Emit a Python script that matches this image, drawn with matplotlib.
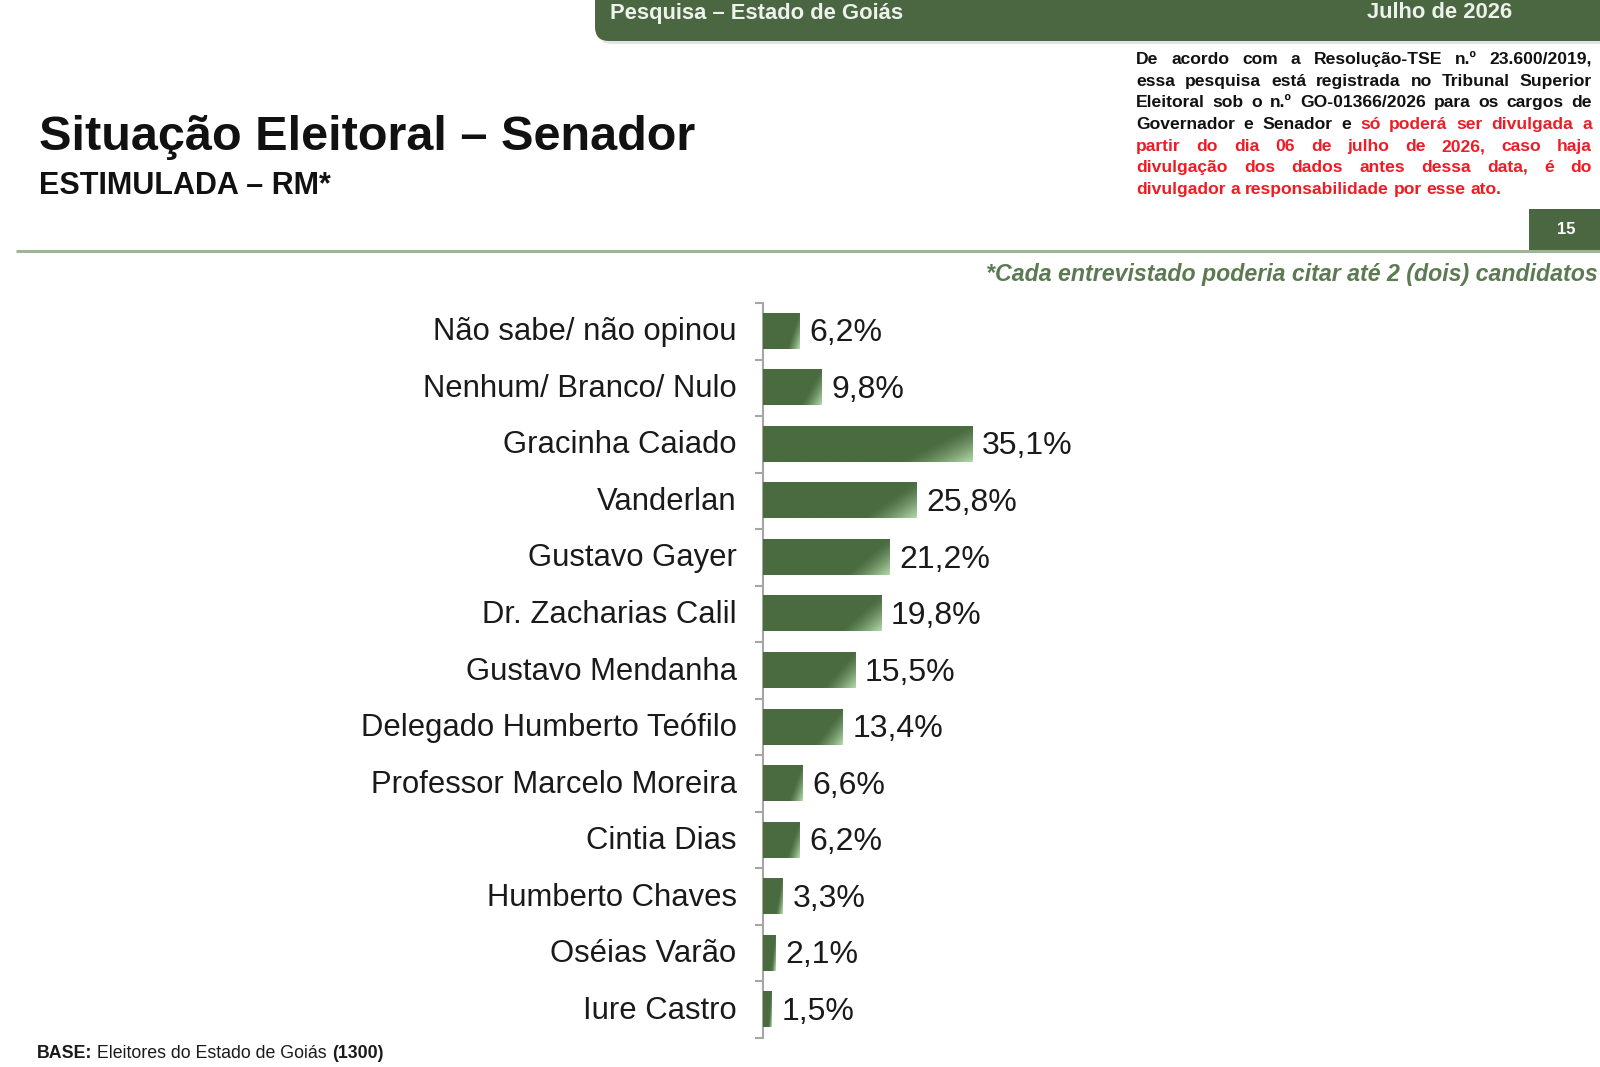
import numpy as np
import matplotlib
matplotlib.use('Agg')
import matplotlib.pyplot as plt
from matplotlib.patches import FancyBboxPatch, Rectangle
from matplotlib.transforms import ScaledTranslation

plt.rcParams['font.family'] = ['Liberation Sans', 'DejaVu Sans']

#####################
# DADOS
categorias = ['Não sabe/ não opinou', 'Nenhum/ Branco/ Nulo', 'Gracinha Caiado',
              'Vanderlan', 'Gustavo Gayer', 'Dr. Zacharias Calil', 'Gustavo Mendanha',
              'Delegado Humberto Teófilo', 'Professor Marcelo Moreira', 'Cintia Dias',
              'Humberto Chaves', 'Oséias Varão', 'Iure Castro']
valores = [6.2, 9.8, 35.1, 25.8, 21.2, 19.8, 15.5, 13.4, 6.6, 6.2, 3.3, 2.1, 1.5]
rotulos = [('%.1f%%' % v).replace('.', ',') for v in valores]

titulo = 'Situação Eleitoral – Senador'
subtitulo = 'ESTIMULADA – RM*'
cabecalho_esq = 'Pesquisa – Estado de Goiás'
cabecalho_dir = 'Julho de 2026'
pagina = '15'
nota_cit = '*Cada entrevistado poderia citar até 2 (dois) candidatos'
# linhas da nota legal: (texto preto, texto vermelho)
nota_linhas = [
    ('De acordo com a Resolução-TSE n.º 23.600/2019,', ''),
    ('essa pesquisa está registrada no Tribunal Superior', ''),
    ('Eleitoral sob o n.º GO-01366/2026 para os cargos de', ''),
    ('Governador e Senador e', 'só poderá ser divulgada a'),
    ('', 'partir do dia 06 de julho de 2026, caso haja'),
    ('', 'divulgação dos dados antes dessa data, é do'),
    ('', 'divulgador a responsabilidade por esse ato.'),
]
base_runs = [('BASE:', 'bold'), (' Eleitores do Estado de Goiás ', 'normal'), ('(1300)', 'bold')]
#####################

verde = '#4a6741'
verde_claro = np.array([0.70, 0.85, 0.66])
verde_escuro = np.array([0x4a, 0x6b, 0x40]) / 255.
W, H = 1600, 1067

fig = plt.figure(figsize=(16, 10.67), dpi=100)
bg = fig.add_axes([0, 0, 1, 1])
bg.set_xlim(0, W)
bg.set_ylim(H, 0)
bg.axis('off')
r = fig.canvas.get_renderer()


def largura(t):
    return t.get_window_extent(r).width


# cabecalho
bg.add_patch(FancyBboxPatch((598, -40), 1100, 84, boxstyle='round,pad=0,rounding_size=14',
                            fc='#c8c8c8', ec='none', alpha=0.5))
bg.add_patch(FancyBboxPatch((595, -40), 1100, 81, boxstyle='round,pad=0,rounding_size=14',
                            fc=verde, ec='none'))
bg.text(610, 13, cabecalho_esq, color='#eef2ec', fontsize=15.8, weight='bold', va='center')
bg.text(1367, 13, cabecalho_dir, color='#eef2ec', fontsize=15.8, weight='bold', va='center')

# titulo
bg.text(39, 138, titulo, fontsize=35, weight='bold', va='center', color='#111111')
bg.text(39, 186, subtitulo, fontsize=22, weight='bold', va='center', color='#111111')

# nota legal justificada
x0, x1 = 1136, 1592
ys = [59, 81, 102, 124, 146, 167, 189]
fs_nota = 12.6
for k, (preto, verm) in enumerate(nota_linhas):
    palavras = [(w, '#111111') for w in preto.split()] + [(w, '#ee1c25') for w in verm.split()]
    objs = [bg.text(0, ys[k] + 5, w, color=c, fontsize=fs_nota, weight='bold', va='baseline')
            for w, c in palavras]
    ws = [largura(o) for o in objs]
    if k == len(nota_linhas) - 1:
        gap = largura(bg.text(0, 0, 'a a', fontsize=fs_nota, weight='bold', alpha=0)) - \
            2 * largura(bg.text(0, 0, 'a', fontsize=fs_nota, weight='bold', alpha=0))
    else:
        gap = (x1 - x0 - sum(ws)) / (len(ws) - 1)
    x = x0
    for o, w in zip(objs, ws):
        o.set_x(x)
        x += w + gap

# caixa da pagina e linha
bg.add_patch(Rectangle((1529, 209), 75, 42, fc=verde, ec='none'))
bg.text(1566, 230, pagina, color='white', fontsize=12, weight='bold', ha='center', va='center')
bg.plot([16, 1600], [251, 251], color='#9db592', lw=2.2, solid_capstyle='butt')
bg.text(1598, 274, nota_cit, color='#5b7a52', fontsize=16.7, weight='bold', style='italic',
        ha='right', va='center')

# base
x = 37
for txt, wt in base_runs:
    t = bg.text(x, 1053, txt, fontsize=12.8, weight=wt, va='center', color='#1a1a1a')
    x += largura(t)

# grafico
n = len(categorias)
ypos = np.arange(n)
ax = fig.add_axes([763 / W, 1 - 1038 / H, 596 / W, (1038 - 303) / H])
alt = 0.62
ax.barh(ypos, valores, height=alt, color=verde, zorder=2)

# brilho do gradiente nas barras
for i, v in enumerate(valores):
    nx = max(int(v * 5.96), 2)
    ny = 35
    xn = np.linspace(0, 1, nx)[None, :]
    yn = np.linspace(0, 1, ny)[:, None]
    s = 0.75 * xn + 0.25 * yn
    t = np.clip((s - 0.74) / 0.26, 0, 1) ** 1.3
    img = verde_escuro[None, None, :] * (1 - t[..., None]) + verde_claro[None, None, :] * t[..., None]
    ax.imshow(img, extent=(0, v, i + alt / 2, i - alt / 2), aspect='auto',
              interpolation='bilinear', zorder=3)

for i, (v, lbl) in enumerate(zip(valores, rotulos)):
    ax.annotate(lbl, (v, i), xytext=(7, -1.5), textcoords='offset points', va='center',
                fontsize=23, color='#1a1a1a')

ax.set_xlim(0, 100)
ax.set_ylim(n - 0.5, -0.5)
ax.set_yticks(ypos, categorias)
ax.set_yticks(np.arange(-0.5, n, 1), minor=True)
ax.tick_params(axis='y', which='major', length=0, pad=19, labelsize=22.3, labelcolor='#1a1a1a')
ax.tick_params(axis='y', which='minor', length=6, width=1.5, color='#a6a6a6', direction='out')
ax.set_xticks([])
sobe = ScaledTranslation(0, 2.5 / 100, fig.dpi_scale_trans)
for lab in ax.get_yticklabels():
    lab.set_transform(lab.get_transform() + sobe)
for sp in ['top', 'right', 'bottom']:
    ax.spines[sp].set_visible(False)
ax.spines['left'].set_color('#a6a6a6')
ax.spines['left'].set_linewidth(1.5)
ax.patch.set_alpha(0)

fig.savefig('out.png', dpi=100)
